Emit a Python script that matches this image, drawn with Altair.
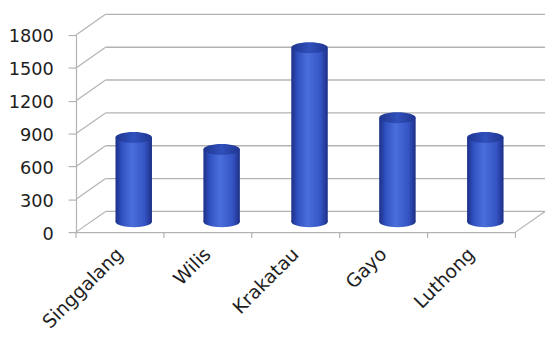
import altair as alt
import pandas as pd

# ---- data ----
names = ["Singgalang", "Wilis", "Krakatau", "Gayo", "Luthong"]
values = [770, 660, 1590, 950, 770]
y_ticks = [0, 300, 600, 900, 1200, 1500, 1800]

bars_df = pd.DataFrame({"name": names, "value": values})
grid_df = pd.DataFrame({"v": y_ticks})
end_df = pd.DataFrame({"name": [names[-1]]})

# ---- layout / style ----
W, H = 446, 200
DX, DY = 30, -21          # depth of the 3D box
BX, BY = 14, -10.5        # cylinders sit at mid depth
BW = 37
GRID = "#b3b3b3"
TXT = "#1e1e1e"
FONT = "DejaVu Sans"

ELL = "M -1 0 A 1 0.3 0 1 1 1 0 A 1 0.3 0 1 1 -1 0 Z"

body_grad = alt.LinearGradient(
    gradient="linear", x1=0, x2=1, y1=0, y2=0,
    stops=[
        alt.GradientStop(color="#1c2f86", offset=0),
        alt.GradientStop(color="#3152c2", offset=0.18),
        alt.GradientStop(color="#4a6fdb", offset=0.45),
        alt.GradientStop(color="#3554c4", offset=0.8),
        alt.GradientStop(color="#1c2f86", offset=1),
    ],
)
top_grad = alt.LinearGradient(
    gradient="linear", x1=0, x2=1, y1=0, y2=0,
    stops=[
        alt.GradientStop(color="#1f3590", offset=0),
        alt.GradientStop(color="#3050bc", offset=0.5),
        alt.GradientStop(color="#1f3590", offset=1),
    ],
)

xs = alt.Scale(domain=names, paddingInner=0, paddingOuter=0)
ys = alt.Scale(domain=[0, 1800], nice=False)

YAX = alt.Axis(
    values=y_ticks, format="d", grid=False, domain=True, domainColor=GRID, domainWidth=1.2,
    ticks=True, tickSize=8, tickColor=GRID, tickWidth=1.2,
    labelFontSize=18, labelFont=FONT, labelColor=TXT, labelPadding=15,
    labelOffset=2, title=None)
XAX = alt.Axis(
    title=None, labelAngle=315, labelAlign="right", labelBaseline="middle",
    labelFontSize=19, labelFont=FONT, labelColor=TXT, labelPadding=19,
    labelOffset=0, ticks=False, domain=True, domainColor=GRID, domainWidth=1.2)


def X(**kw):
    return alt.X("name:N", scale=xs, sort=names, axis=XAX, **kw)


back = alt.Chart(grid_df).mark_rule(color=GRID, strokeWidth=1.4, yOffset=DY).encode(
    y=alt.Y("v:Q", scale=ys, axis=YAX),
    x=alt.value(DX), x2=alt.value(W + DX),
)

slant = alt.Chart(grid_df).mark_rule(color=GRID, strokeWidth=1.2, y2Offset=DY).encode(
    y=alt.Y("v:Q", scale=ys, axis=YAX), y2="v:Q",
    x=alt.value(0), x2=alt.value(DX),
)

right_floor = alt.Chart(end_df).mark_rule(color=GRID, strokeWidth=1.2, y2Offset=DY).encode(
    y=alt.Y(datum=0, scale=ys, axis=YAX), y2=alt.datum(0),
    x=alt.value(W), x2=alt.value(W + DX),
)

xticks = alt.Chart(bars_df).mark_rule(color=GRID, strokeWidth=1.2).encode(
    x=X(bandPosition=0),
    y=alt.value(H), y2=alt.value(H + 6),
)
xtick_end = alt.Chart(end_df).mark_rule(color=GRID, strokeWidth=1.2).encode(
    x=X(bandPosition=1),
    y=alt.value(H), y2=alt.value(H + 6),
)

bottom_ell = alt.Chart(bars_df).mark_point(
    shape=ELL, size=BW * BW, filled=True, opacity=1, strokeWidth=0,
    xOffset=BX, yOffset=BY, color=body_grad,
).encode(
    x=X(),
    y=alt.Y(datum=0, scale=ys, axis=YAX),
)

bars = alt.Chart(bars_df).mark_bar(
    size=BW, xOffset=BX, yOffset=BY, y2Offset=BY, color=body_grad,
).encode(
    x=X(),
    y=alt.Y("value:Q", scale=ys, axis=YAX),
)

top_ell = alt.Chart(bars_df).mark_point(
    shape=ELL, size=BW * BW, filled=True, opacity=1, strokeWidth=0,
    xOffset=BX, yOffset=BY, color=top_grad,
).encode(
    x=X(),
    y=alt.Y("value:Q", scale=ys, axis=YAX),
)

chart = alt.layer(
    back, slant, right_floor, xticks, xtick_end, bottom_ell, bars, top_ell
).properties(
    width=W, height=H,
    autosize=alt.AutoSizeParams(type="none"),
    padding={"left": 69, "top": 25, "right": 32, "bottom": 105},
    background="white",
).configure_view(stroke=None)

chart.save("out.html", embed_options={"renderer": "svg", "actions": False})
